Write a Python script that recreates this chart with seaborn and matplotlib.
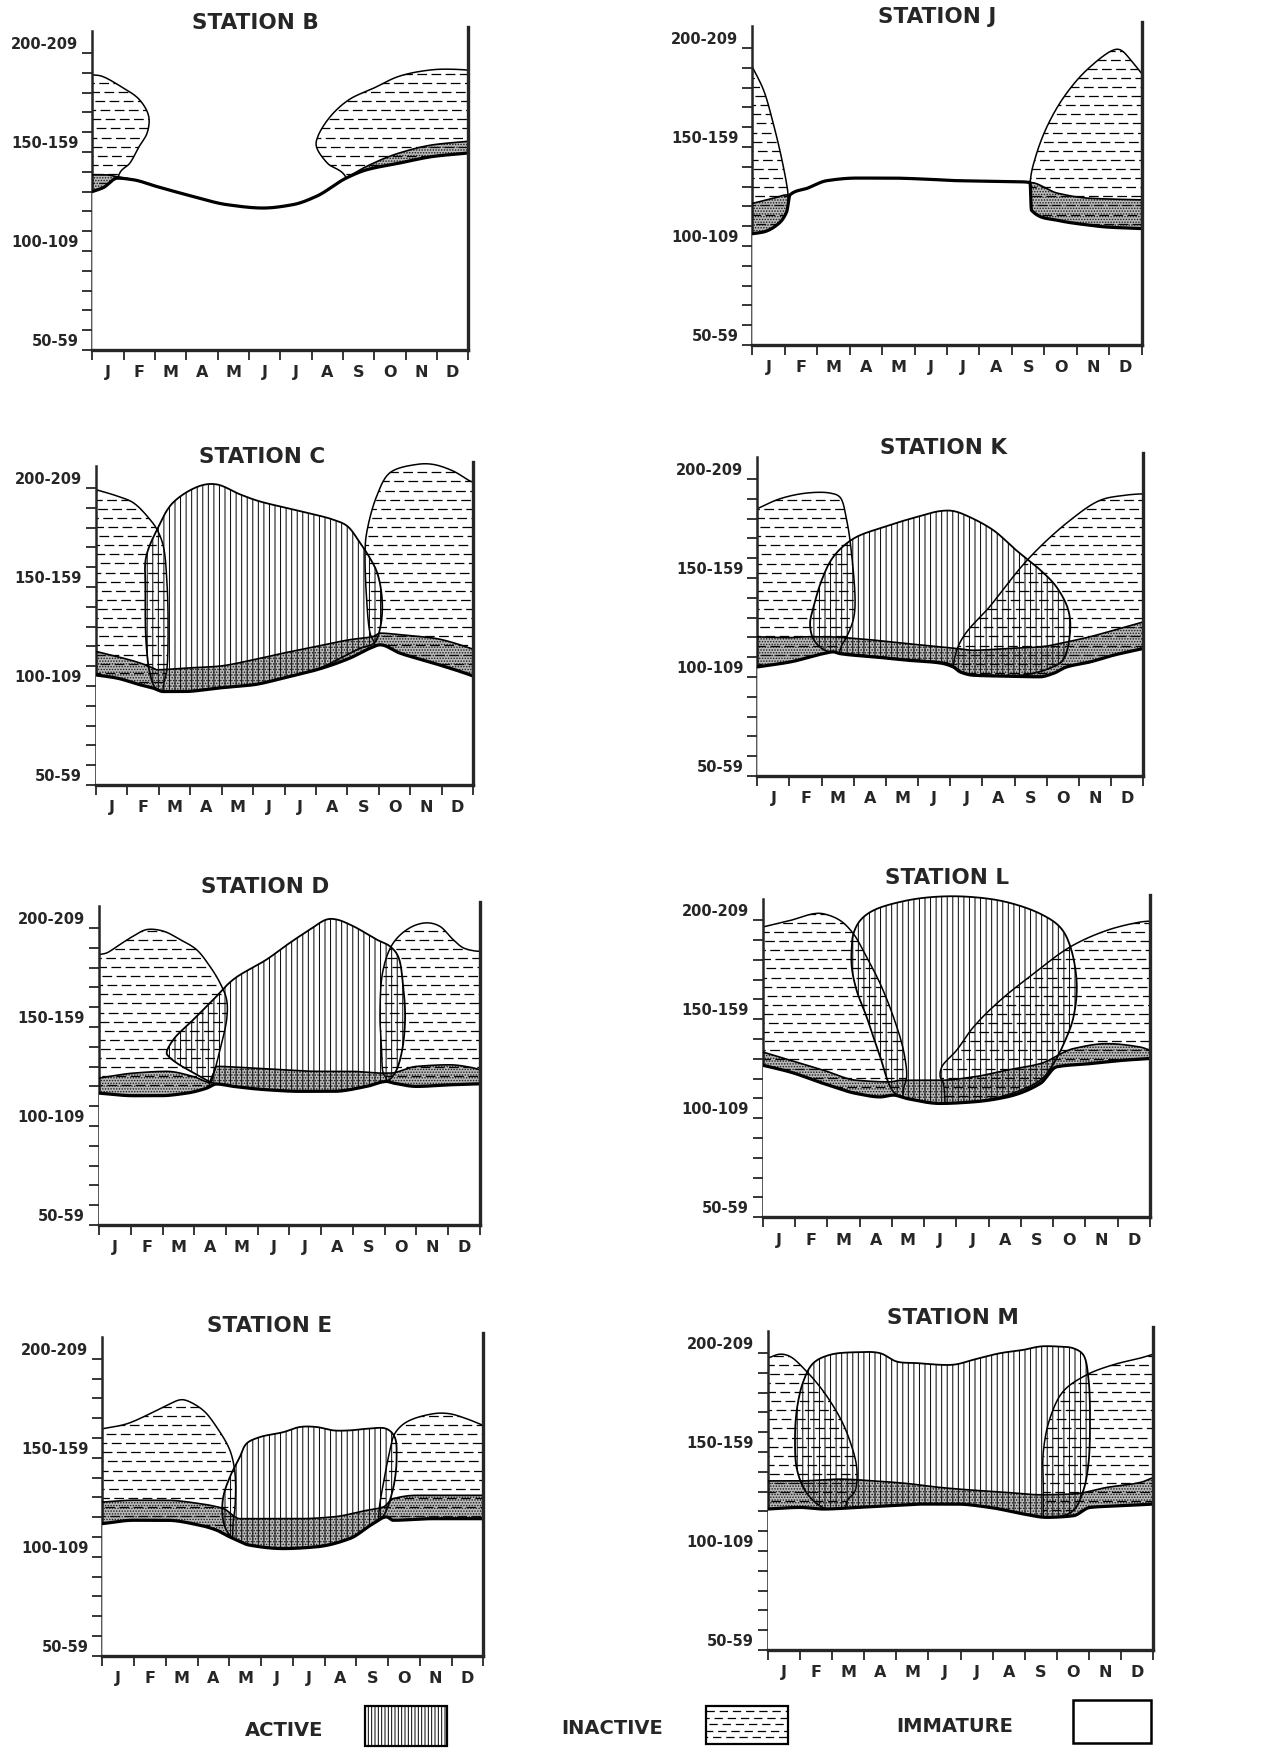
import numpy as np
import matplotlib
matplotlib.use("Agg")
import matplotlib.pyplot as plt
from matplotlib.path import Path
from matplotlib.patches import PathPatch, Rectangle
import seaborn as sns

# ---------------- data (month 0..12, length class mm) ----------------
MONTHS = ["J", "F", "M", "A", "M", "J", "J", "A", "S", "O", "N", "D"]
Y_LABELS = ["50-59", "100-109", "150-159", "200-209"]
Y_LABEL_POS = [55, 105, 155, 205]
LEGEND_LABELS = ["ACTIVE", "INACTIVE", "IMMATURE"]

# Station B
b_imm_x = [0, 0.35, 0.8, 1.3, 2.05, 3.2, 4.3, 5.45, 6.4, 7.15, 8.1, 8.75, 9.8, 10.9, 12]
b_imm_y = [130, 132, 136.8, 136, 132.6, 127.6, 123.4, 121.7, 123.4, 127.6, 136.8, 141, 144.4, 147.8, 149.5]
b_band_x = [0, 0.4, 0.8, 1.3, 2.05, 3.2, 4.3, 5.45, 6.4, 7.15, 8.1, 8.75, 9.8, 10.9, 12]
b_band_y = [138.5, 138.5, 137.5, 136, 132.6, 127.6, 123.4, 121.7, 123.4, 127.6, 136.8, 142.7, 149.5, 153.7, 155.4]
b_inactive_1_x = [0, 0.3, 0.9, 1.5, 1.8, 1.75, 1.5, 1.2, 0.85, 0.8, 0]
b_inactive_1_y = [189, 188.3, 183.2, 176.5, 168, 159.6, 152.9, 144.4, 138.5, 50, 50]
b_inactive_2_x = [8.1, 7.5, 7.15, 7.2, 7.6, 8.2, 9.0, 9.8, 10.9, 11.8, 12, 12, 8.1]
b_inactive_2_y = [137, 144.4, 152.9, 157.9, 168, 176.5, 182.4, 188.3, 191.6, 191.6, 191.3, 50, 50]

# Station J
j_imm_x = [0, 0.35, 0.75, 1.06, 1.16, 1.7, 2.3, 3.2, 4.25, 5.3, 6.3, 7.85, 8.56, 8.6, 9.4, 10.4, 10.9, 12]
j_imm_y = [106.2, 107.1, 110.5, 117.3, 125.8, 129.2, 133, 134.3, 134.3, 133.8, 133, 132.6, 132.1, 118.1, 113, 110.5, 109.6, 108.8]
j_band_x = [0, 0.65, 1.06, 1.16, 8.56, 9.4, 10.4, 12]
j_band_y = [121.5, 124.1, 125.8, 125.8, 132.1, 126.7, 124.1, 123.3]
j_inactive_1_x = [0, 0.35, 0.65, 0.9, 1.06, 1.1, 1.1, 0]
j_inactive_1_y = [190.5, 178.6, 161.6, 144.5, 131, 125.8, 50, 50]
j_inactive_2_x = [8.56, 8.72, 9.07, 9.6, 10.3, 11.13, 11.35, 11.75, 12, 12, 8.56]
j_inactive_2_y = [132.1, 144.5, 159.9, 175.2, 188.8, 199, 199, 192.2, 187.1, 50, 50]

# Station C
c_imm_x = [0, 0.67, 1.41, 1.83, 2.15, 2.8, 3.85, 5.0, 5.96, 7.02, 8.08, 8.72, 9.04, 9.67, 10.73, 11.9, 12]
c_imm_y = [105.6, 104, 100.6, 98.9, 97.2, 97.2, 98.9, 100.6, 104, 108.2, 114.1, 119.1, 120.8, 116.6, 111.6, 105.6, 105]
c_band_x = [0, 0.67, 1.41, 1.83, 1.94, 2.8, 3.85, 5.0, 5.96, 7.02, 8.08, 8.82, 9.04, 9.67, 10.73, 11.9, 12]
c_band_y = [117.5, 114.9, 111.6, 109, 108.2, 109, 109.9, 113.2, 116.6, 120, 123.4, 125, 126.7, 125.9, 124.2, 119.1, 118.5]
c_inactive_1_x = [0, 0.67, 1.2, 1.73, 1.95, 2.15, 2.26, 2.3, 2.26, 2.15, 2.15, 0]
c_inactive_1_y = [199.2, 196, 192.5, 184, 179, 170.6, 153.7, 132, 108, 99.7, 50, 50]
c_inactive_2_x = [8.88, 8.72, 8.61, 8.56, 8.61, 8.93, 9.35, 10.2, 10.73, 11.37, 11.9, 12, 12, 8.9]
c_inactive_2_y = [120, 126.7, 143.6, 167.2, 177.3, 195.9, 207.7, 211.9, 211.9, 208.5, 203.5, 203, 50, 50]
c_active_1_x = [1.6, 1.95, 2.45, 3.3, 3.85, 4.6, 5.2, 6.5, 7.55, 8.0, 8.4, 8.7, 8.95, 9.1, 9.05, 8.85, 8.4,
                7.0, 6.0, 5.0, 3.85, 2.8, 2.2, 1.9, 1.72, 1.6, 1.58]
c_active_1_y = [165, 179, 192.5, 201, 201.8, 196.7, 193.3, 188.3, 184, 180.7, 172.3, 165, 157, 143.6, 130, 121.7, 119,
                108.2, 104, 100.6, 98.9, 97.2, 97.2, 99, 106.5, 123.4, 148.7]

# Station K
k_imm_x = [0, 1.02, 2.05, 2.36, 2.57, 3.61, 4.64, 5.68, 6.09, 6.3, 6.71, 7.75, 8.79, 9.2, 9.62, 10.34, 11.07, 12]
k_imm_y = [105.1, 107.6, 111.8, 112.7, 111.8, 110.2, 108.5, 107.1, 105.1, 102.6, 100.9, 100.4, 100.1, 101.8, 105.1, 107.6, 111, 114.4]
k_band_x = [0, 1.02, 1.53, 2.16, 3.09, 4.64, 5.68, 6.2, 6.71, 7.75, 8.79, 9.62, 10.34, 11.07, 12]
k_band_y = [120.3, 119.9, 120.3, 120.3, 119.4, 116.9, 115.2, 114.4, 113.5, 114.4, 115.2, 117.7, 120.3, 123.6, 127.8]
k_inactive_1_x = [0, 0.7, 1.53, 2.26, 2.57, 2.78, 2.93, 3.04, 2.98, 2.78, 2.57, 2.5, 0]
k_inactive_1_y = [185, 190, 192.9, 192.9, 190.8, 179.1, 162.3, 137.1, 128.7, 120.3, 113.5, 50, 50]
k_inactive_2_x = [6.2, 7.3, 8.48, 9.72, 10.65, 11.38, 11.95, 12, 12, 6.2]
k_inactive_2_y = [113.5, 137, 160.6, 179.1, 189.2, 191.7, 192.5, 192.5, 50, 50]
k_active_1_x = [1.64, 1.75, 2.0, 2.36, 2.98, 3.92, 4.95, 5.68, 6.1, 6.6, 7.35, 8.05, 8.8, 9.3, 9.67, 9.72, 9.5,
                9.1, 8.3, 7.3, 6.5, 6.2, 6.0, 5.7, 4.6, 3.6, 2.6, 2.1, 1.75]
k_active_1_y = [127, 135.4, 148.8, 160.6, 169.8, 175.7, 180.8, 183.8, 183.8, 180.8, 174, 164, 154, 145.5, 133.7, 122, 108.5,
                104.5, 101, 100.6, 101.5, 104, 106.5, 107.5, 108.8, 110.5, 112, 113.5, 119]

# Station D
d_imm_x = [0, 1.08, 1.92, 2.76, 3.39, 3.7, 4.23, 5.28, 6.33, 7.38, 8.43, 9.06, 9.27, 10.0, 11.05, 12]
d_imm_y = [116.6, 115.3, 115.3, 116.6, 119.1, 121.2, 120, 118.3, 117.5, 117.5, 120, 122.5, 121.7, 120, 120.8, 121.3]
d_band_x = [0, 1.08, 2.13, 2.97, 3.5, 3.7, 4.75, 5.8, 6.85, 7.9, 8.95, 9.16, 10.0, 11.05, 11.8, 12]
d_band_y = [124.2, 126.7, 127.6, 125, 122, 130.1, 129.3, 128.4, 127.6, 127.6, 126.7, 126.7, 130.1, 130.9, 129.3, 128.4]
d_inactive_1_x = [0, 0.24, 0.66, 1.08, 1.5, 2.03, 2.55, 3.07, 3.49, 3.81, 4.02, 4.02, 3.81, 3.65, 3.49, 3.4, 0]
d_inactive_1_y = [186.6, 187.4, 191.7, 195.9, 199.2, 198.4, 194.2, 189.1, 180.7, 172.3, 163.8, 153.7, 138.5, 128.4, 121.7, 50, 50]
d_inactive_2_x = [9.06, 8.95, 8.9, 8.85, 8.95, 9.27, 9.79, 10.31, 10.73, 11.15, 11.47, 11.89, 12, 12, 9.06]
d_inactive_2_y = [123.4, 126.7, 138.5, 157.1, 179, 192.5, 200.1, 202.6, 200.9, 194.2, 190, 188.3, 188.3, 50, 50]
d_active_1_x = [2.13, 2.34, 2.97, 3.6, 4.23, 5.28, 6.01, 6.64, 7.17, 7.48, 8.01, 8.74, 9.16, 9.42, 9.58, 9.64, 9.53,
                9.32, 9.06, 8.43, 7.38, 6.33, 5.28, 4.23, 3.6, 3.18, 2.45, 2.2]
d_active_1_y = [136.8, 143.6, 153.7, 163.8, 174, 184.1, 192.5, 199.2, 204.3, 204.3, 200.9, 194.2, 190.8, 185.7, 170.6, 153.7, 136.8,
                126.7, 122.5, 120, 117.5, 117.5, 118.3, 120, 121.7, 125, 131.8, 135]

# Station L
l_imm_x = [0, 0.85, 1.88, 2.91, 3.64, 4.05, 4.46, 5.5, 6.53, 7.56, 8.6, 9.11, 10.14, 11.18, 12]
l_imm_y = [126.8, 123.4, 117.6, 112.5, 110.8, 111.7, 110, 107.5, 108.3, 110.8, 117.6, 126, 127.6, 129.3, 130.2]
l_band_x = [0, 0.85, 1.88, 2.91, 3.94, 4.26, 5.5, 6.53, 7.56, 8.6, 9.63, 10.66, 11.69, 12]
l_band_y = [133.5, 129.3, 124.3, 119.2, 118.4, 119.2, 119.2, 120.9, 124.3, 127.6, 135.2, 137.7, 136, 134.4]
l_inactive_1_x = [0, 0.85, 1.57, 1.88, 2.4, 2.81, 3.22, 3.64, 4.05, 4.36, 4.46, 4.36, 4.3, 0]
l_inactive_1_y = [196.6, 199.9, 203.3, 203.3, 199.9, 193.2, 181.4, 168, 151.2, 134.4, 120.9, 114.2, 50, 50]
l_inactive_2_x = [5.6, 5.5, 5.55, 6.01, 6.53, 7.36, 8.39, 9.52, 10.66, 11.69, 12, 12, 5.6]
l_inactive_2_y = [117.6, 121, 126, 134.4, 146.1, 159.6, 173, 186.5, 194.9, 199.1, 199.6, 50, 50]
l_active_1_x = [2.81, 3.02, 3.43, 4.46, 5.5, 6.53, 7.56, 8.6, 9.21, 9.52, 9.73, 9.63, 9.42, 9.01, 8.6, 7.56, 6.53,
                5.5, 4.46, 4.05, 3.64, 3.22, 2.91, 2.76, 2.76]
l_active_1_y = [193.2, 199.9, 205, 210, 212, 211.7, 209.2, 203.3, 196.6, 187.3, 168, 151.2, 141.1, 127.6, 119.2, 111.7, 108.3,
                107.5, 110, 113.4, 131, 151.2, 164.6, 176.3, 186.5]

# Station E
e_imm_x = [0, 0.98, 2.03, 3.07, 3.6, 3.91, 4.12, 4.65, 5.7, 6.75, 7.8, 8.53, 8.95, 9.16, 10.42, 12]
e_imm_y = [116.7, 118.4, 118.4, 115.9, 113.4, 110.8, 109.2, 105.8, 104.1, 105, 109.2, 116.7, 120.1, 118.4, 119.2, 119.2]
e_band_x = [0, 0.98, 2.03, 3.07, 3.81, 4.33, 5.17, 6.22, 7.27, 8.32, 8.85, 9.16, 9.9, 10.94, 12]
e_band_y = [127.6, 128.5, 128.5, 126.8, 124.3, 119.2, 119.2, 119.2, 120.1, 123.4, 125.1, 129.3, 131, 131, 131]
e_inactive_1_x = [0, 0.77, 1.5, 2.03, 2.44, 2.65, 3.18, 3.6, 4.02, 4.18, 4.18, 4.12, 4.1, 0]
e_inactive_1_y = [164.6, 167.1, 172.2, 176.4, 179.2, 178.9, 173.9, 165.5, 153.7, 141.9, 125.1, 116.7, 50, 50]
e_inactive_2_x = [8.7, 8.85, 9.06, 9.21, 9.58, 10.42, 10.94, 11.47, 12, 12, 8.7]
e_inactive_2_y = [120.1, 136.9, 153.7, 162.1, 168, 172.2, 172.2, 169.7, 166.3, 50, 50]
e_active_1_x = [3.81, 4.02, 4.33, 4.54, 4.96, 5.7, 6.22, 6.75, 7.27, 7.8, 8.32, 8.95, 9.21, 9.27, 9.21, 9.06, 8.9,
                8.74, 8.32, 7.8, 6.75, 5.7, 4.65, 4.12, 3.91, 3.79]
e_active_1_y = [130.2, 140.3, 150.3, 157.1, 160.4, 162.9, 165.5, 165.5, 163.8, 163.8, 164.6, 164.6, 160.4, 150.3, 138.6, 128.5, 121.8,
                118.4, 113.4, 109.2, 105, 104.1, 105.8, 109.2, 113.4, 120.1]

# Station M
m_imm_x = [0, 1.01, 1.73, 2.77, 3.81, 4.84, 5.88, 6.92, 7.96, 8.68, 9.51, 10.03, 11.07, 12]
m_imm_y = [121.2, 122, 121.2, 122, 122.9, 123.7, 123.7, 122, 118.7, 117, 117.8, 122, 122.9, 123.7]
m_band_x = [0, 1.01, 2.25, 3.29, 4.33, 5.36, 6.4, 7.44, 8.48, 9.51, 10.55, 11.59, 12]
m_band_y = [135.4, 135.4, 136.3, 135.4, 134.1, 132.1, 130.7, 129.6, 128.4, 128.8, 132.1, 134.6, 137.1]
m_inactive_1_x = [0, 0.38, 0.7, 1.21, 1.73, 2.25, 2.56, 2.77, 2.72, 2.46, 2.4, 0]
m_inactive_1_y = [197.4, 199.4, 198.2, 190.7, 180.7, 167.3, 155.5, 142.1, 130.4, 124.5, 50, 50]
m_inactive_2_x = [8.58, 8.58, 8.79, 9.2, 9.93, 10.76, 11.59, 12, 12, 8.58]
m_inactive_2_y = [127, 150.5, 167.3, 180.7, 189, 194.1, 197.4, 199.4, 50, 50]
m_active_1_x = [0.85, 0.9, 1.11, 1.42, 1.94, 2.77, 3.5, 4.01, 4.64, 5.78, 6.4, 7.23, 7.96, 8.48, 9.0, 9.51, 9.82,
                9.98, 10.03, 9.98, 9.82, 9.51, 9.0, 8.58, 7.96, 6.4, 4.33, 2.77, 1.84, 1.42, 1.11, 0.9]
m_active_1_y = [153.9, 170.6, 185.7, 194.9, 199.1, 200.4, 199.9, 195.7, 194.9, 194.1, 196.6, 199.9, 201.6, 203.3, 203.3, 202.4, 199.1,
                187.4, 163.9, 143.8, 130.4, 120.4, 117, 117, 118.7, 122.9, 122.9, 122, 121.2, 125.4, 132.1, 142.1]

STATIONS = [
    ("STATION B", b_imm_x, b_imm_y, b_band_x, b_band_y,
     [(b_inactive_1_x, b_inactive_1_y), (b_inactive_2_x, b_inactive_2_y)], []),
    ("STATION J", j_imm_x, j_imm_y, j_band_x, j_band_y,
     [(j_inactive_1_x, j_inactive_1_y), (j_inactive_2_x, j_inactive_2_y)], []),
    ("STATION C", c_imm_x, c_imm_y, c_band_x, c_band_y,
     [(c_inactive_1_x, c_inactive_1_y), (c_inactive_2_x, c_inactive_2_y)], [(c_active_1_x, c_active_1_y)]),
    ("STATION K", k_imm_x, k_imm_y, k_band_x, k_band_y,
     [(k_inactive_1_x, k_inactive_1_y), (k_inactive_2_x, k_inactive_2_y)], [(k_active_1_x, k_active_1_y)]),
    ("STATION D", d_imm_x, d_imm_y, d_band_x, d_band_y,
     [(d_inactive_1_x, d_inactive_1_y), (d_inactive_2_x, d_inactive_2_y)], [(d_active_1_x, d_active_1_y)]),
    ("STATION L", l_imm_x, l_imm_y, l_band_x, l_band_y,
     [(l_inactive_1_x, l_inactive_1_y), (l_inactive_2_x, l_inactive_2_y)], [(l_active_1_x, l_active_1_y)]),
    ("STATION E", e_imm_x, e_imm_y, e_band_x, e_band_y,
     [(e_inactive_1_x, e_inactive_1_y), (e_inactive_2_x, e_inactive_2_y)], [(e_active_1_x, e_active_1_y)]),
    ("STATION M", m_imm_x, m_imm_y, m_band_x, m_band_y,
     [(m_inactive_1_x, m_inactive_1_y), (m_inactive_2_x, m_inactive_2_y)], [(m_active_1_x, m_active_1_y)]),
]

# ---------------- layout (pixels) ----------------
W, H = 1276, 1752
PANEL_PX = [  # left spine, right spine, bottom (y=50)
    (92.3, 468.3, 350), (752.3, 1141.7, 345),
    (95.7, 473.3, 785), (757.3, 1143.3, 776),
    (99, 480, 1225), (762.7, 1150, 1217.3),
    (102.3, 483.3, 1655.7), (767.7, 1153.3, 1650),
]
TITLE_PX = [(255, 23), (937, 17), (262, 457), (943, 448),
            (265, 887), (947, 878), (270, 1326), (953, 1318)]
YTOP = 213
PX_PER_UNIT = 1.98

sns.set_style("ticks")
plt.rcParams["font.family"] = ["DejaVu Sans"]
plt.rcParams["hatch.linewidth"] = 0.7
plt.rcParams["lines.scale_dashes"] = False

XS = 15.9  # month -> length-unit aspect for spline parametrisation


def cr_chain(pts, closed=False, n=14):
    P = np.asarray(pts, float)
    if closed:
        ext = np.vstack([P[-1], P, P[0], P[1]])
        nseg = len(P)
    else:
        ext = np.vstack([2 * P[0] - P[1], P, 2 * P[-1] - P[-2]])
        nseg = len(P) - 1

    def d(a, b):
        return max(np.hypot((b[0] - a[0]) * XS, b[1] - a[1]) ** 0.5, 1e-3)

    out = []
    for i in range(nseg):
        p0, p1, p2, p3 = ext[i], ext[i + 1], ext[i + 2], ext[i + 3]
        t0 = 0.0
        t1 = t0 + d(p0, p1)
        t2 = t1 + d(p1, p2)
        t3 = t2 + d(p2, p3)
        t = np.linspace(t1, t2, n, endpoint=False)[:, None]
        A1 = (t1 - t) / (t1 - t0) * p0 + (t - t0) / (t1 - t0) * p1
        A2 = (t2 - t) / (t2 - t1) * p1 + (t - t1) / (t2 - t1) * p2
        A3 = (t3 - t) / (t3 - t2) * p2 + (t - t2) / (t3 - t2) * p3
        B1 = (t2 - t) / (t2 - t0) * A1 + (t - t0) / (t2 - t0) * A2
        B2 = (t3 - t) / (t3 - t1) * A2 + (t - t1) / (t3 - t1) * A3
        out.append((t2 - t) / (t2 - t1) * B1 + (t - t1) / (t2 - t1) * B2)
    if closed:
        out.append(P[:1])
    else:
        out.append(P[-1:])
    return np.vstack(out)


def smooth_shape(xs, ys):
    P = np.column_stack([xs, ys]).astype(float)
    sharp = (P[:, 0] <= 0.001) | (P[:, 0] >= 11.999) | (P[:, 1] <= 50.001)
    if not sharp.any():
        return cr_chain(P, closed=True)
    k = int(np.argmax(sharp))
    P = np.roll(P, -k, axis=0)
    sharp = np.roll(sharp, -k)
    P = np.vstack([P, P[:1]])
    sharp = np.append(sharp, True)
    idx = np.flatnonzero(sharp)
    parts = [cr_chain(P[a:b + 1])[:-1] for a, b in zip(idx[:-1], idx[1:])]
    parts.append(P[-1:])
    return np.vstack(parts)


def pchip(x, y, xq):
    x = np.asarray(x, float)
    y = np.asarray(y, float)
    h = np.diff(x)
    delta = np.diff(y) / h
    m = np.zeros_like(y)
    for k in range(1, len(x) - 1):
        if delta[k - 1] * delta[k] > 0:
            w1 = 2 * h[k] + h[k - 1]
            w2 = h[k] + 2 * h[k - 1]
            m[k] = (w1 + w2) / (w1 / delta[k - 1] + w2 / delta[k])
    m[0] = delta[0]
    m[-1] = delta[-1]
    i = np.clip(np.searchsorted(x, xq) - 1, 0, len(x) - 2)
    hk = h[i]
    t = (xq - x[i]) / hk
    h00 = 2 * t ** 3 - 3 * t ** 2 + 1
    h10 = t ** 3 - 2 * t ** 2 + t
    h01 = -2 * t ** 3 + 3 * t ** 2
    h11 = t ** 3 - t ** 2
    return h00 * y[i] + h10 * hk * m[i] + h01 * y[i + 1] + h11 * hk * m[i + 1]


def dash_fill(ax, pts, spacing=4.6, dash=(7.0, 3.2), lw=0.9):
    patch = PathPatch(Path(pts), facecolor="none", edgecolor="none", transform=ax.transData)
    ax.add_patch(patch)
    ymin, ymax = pts[:, 1].min(), pts[:, 1].max()
    xmin, xmax = pts[:, 0].min(), pts[:, 0].max()
    for j, yy in enumerate(np.arange(51.5, 216, spacing)):
        if yy < ymin or yy > ymax:
            continue
        off = (j * 3.7) % (dash[0] + dash[1])
        ln, = ax.plot([xmin, xmax], [yy, yy], color="k", lw=lw, ls=(off, dash),
                      zorder=1, solid_capstyle="butt")
        ln.set_clip_path(patch)


fig = plt.figure(figsize=(W / 100, H / 100), dpi=100)
xg = np.linspace(0, 12, 1201)

for si, (title, ix, iy, bx, by, inactive, active) in enumerate(STATIONS):
    left, right, y50 = PANEL_PX[si]
    axh = (YTOP - 50) * PX_PER_UNIT
    ax = fig.add_axes([left / W, 1 - y50 / H, (right - left) / W, axh / H])
    ax.set_xlim(0, 12)
    ax.set_ylim(50, YTOP)

    # active (vertical-line hatch)
    for (ax_x, ax_y) in active:
        pts = smooth_shape(ax_x, ax_y)
        ax.add_patch(PathPatch(Path(pts), facecolor="none", edgecolor="k", lw=0,
                               hatch="|||", zorder=1))
        ax.add_patch(PathPatch(Path(pts), facecolor="none", edgecolor="k", lw=1.3, zorder=2))
    # inactive (dashed horizontal rows)
    for (nx, ny) in inactive:
        pts = smooth_shape(nx, ny)
        dash_fill(ax, pts)
        ax.add_patch(PathPatch(Path(pts), facecolor="none", edgecolor="k", lw=1.1, zorder=2))

    imm = pchip(ix, iy, xg)
    band = np.maximum(pchip(bx, by, xg), imm)
    # immature region
    ax.fill_between(xg, 40, imm, facecolor="white", edgecolor="none", zorder=3)
    # transition band (dense stipple)
    ax.fill_between(xg, imm, band, facecolor=(0, 0, 0, 0.28), edgecolor=(0.1, 0.1, 0.1),
                    hatch="......", lw=0, zorder=4)
    sns.lineplot(x=xg, y=band, ax=ax, color="k", lw=1.2, estimator=None, sort=False, zorder=5)
    sns.lineplot(x=xg, y=imm, ax=ax, color="k", lw=2.3, estimator=None, sort=False, zorder=5)

    # axes styling
    ax.set_xticks(np.arange(13))
    ax.set_xticks(np.arange(12) + 0.5, minor=True)
    ax.set_xticklabels(MONTHS, minor=True, fontsize=11.5, fontweight="bold")
    ax.set_yticks(np.arange(50, 201, 10))
    ax.set_yticks(Y_LABEL_POS, minor=True)
    ax.set_yticklabels(Y_LABELS, minor=True, fontsize=10.5, fontweight="bold")
    ax.tick_params(which="major", direction="out", length=7, width=1.3,
                   labelbottom=False, labelleft=False)
    ax.tick_params(axis="x", which="minor", length=0, pad=11)
    ax.tick_params(axis="y", which="minor", length=0, pad=10)
    ax.spines["top"].set_visible(False)
    ax.spines["left"].set_bounds(50, 211)
    ax.spines["left"].set_linewidth(1.8)
    ax.spines["bottom"].set_linewidth(2.4)
    ax.spines["right"].set_linewidth(2.4)
    ax.spines["right"].set_zorder(6)
    ax.spines["bottom"].set_zorder(6)
    ax.set_xlabel("")
    ax.set_ylabel("")
    tx, ty = TITLE_PX[si]
    fig.text(tx / W, 1 - ty / H, title, ha="center", va="center", fontsize=15.5,
             fontweight="bold")

# ---------------- legend ----------------
lg = fig.add_axes([0, 0, 1, 1], facecolor="none")
lg.set_xlim(0, W)
lg.set_ylim(H, 0)
lg.axis("off")
lg.text(284, 1731, LEGEND_LABELS[0], ha="center", va="center", fontsize=14, fontweight="bold")
lg.text(612, 1729, LEGEND_LABELS[1], ha="center", va="center", fontsize=14, fontweight="bold")
lg.text(955, 1727, LEGEND_LABELS[2], ha="center", va="center", fontsize=14, fontweight="bold")
lg.add_patch(Rectangle((365, 1706), 82, 40, facecolor="none", edgecolor="k", lw=0,
                       hatch="|||||"))
lg.add_patch(Rectangle((365, 1706), 82, 40, facecolor="none", edgecolor="k", lw=1.6))
box = Rectangle((706, 1706), 82, 38, facecolor="none", edgecolor="k", lw=1.6)
lg.add_patch(box)
clip = Rectangle((706, 1706), 82, 38, facecolor="none", edgecolor="none")
lg.add_patch(clip)
for j, yy in enumerate(np.arange(1711, 1744, 6.5)):
    ln, = lg.plot([706, 788], [yy, yy], color="k", lw=0.9, ls=((j * 3.7) % 10, (6, 3.5)))
    ln.set_clip_path(clip)
lg.add_patch(Rectangle((1073, 1700), 78, 43, facecolor="none", edgecolor="k", lw=1.8))

fig.savefig("out.png", dpi=100)
